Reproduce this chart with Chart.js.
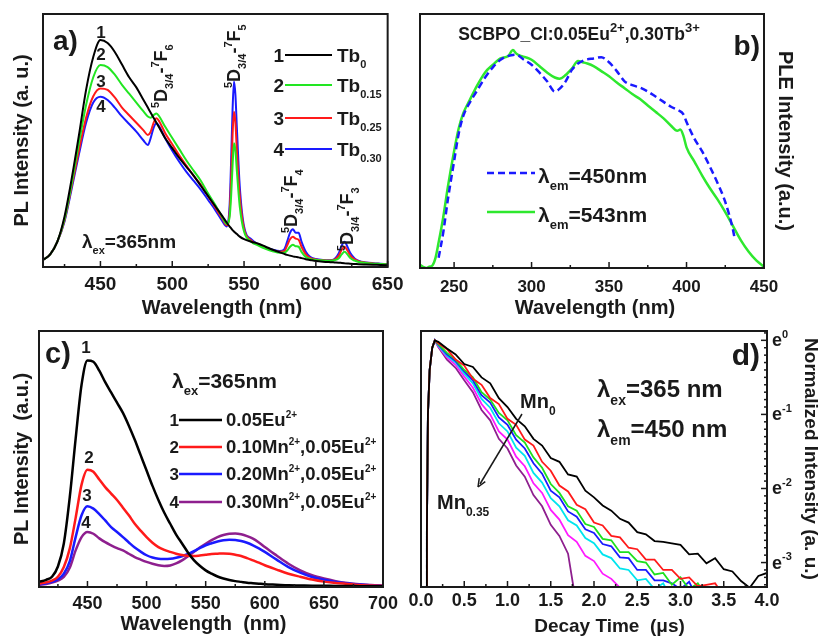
<!DOCTYPE html>
<html>
<head>
<meta charset="utf-8">
<script src="https://cdn.jsdelivr.net/npm/chart.js@4.4.1/dist/chart.umd.min.js"></script>
<style>
html, body { margin: 0; padding: 0; background: #fff; }
#wrap { position: relative; width: 819px; height: 637px; overflow: hidden; }
canvas { position: absolute; }
</style>
</head>
<body>
<div id="wrap">
  <canvas id="chartA" width="410" height="320" style="left:0;top:0"></canvas>
  <canvas id="chartB" width="409" height="320" style="left:410px;top:0"></canvas>
  <canvas id="chartC" width="410" height="327" style="left:0;top:310px"></canvas>
  <canvas id="chartD" width="422" height="327" style="left:400px;top:310px"></canvas>
</div>
<script>
const FONT = '"Liberation Sans", Arial, Helvetica, sans-serif';
Chart.defaults.font.family = FONT;
Chart.defaults.color = '#1a1a1a';

// (a) PL spectra, lambda_ex = 365 nm
const wlA = [410,415,420,425,430,435,440,445,450,455,460,465,470,475,480,483,485,487,489,491,495,500,505,510,515,520,525,530,535,538,540,541,542,543,544,545,547,550,555,560,565,570,575,578,580,582,584,586,588,590,593,596,600,605,610,613,616,618,620,622,624,627,630,635,640,645,650];
const tb0 = [2.8,5,10,20,35,52,70,83,89.7,88.5,85,80,75,71,66,63,61,59,57,55,51,47,43,39.5,36,32,28,24,20,17.5,16,15.3,14.6,14,13.5,13,12,11,10,9.2,8,6.8,5.8,5.2,4.8,4.5,4.2,4,3.8,3.5,3.1,2.8,2.4,2.1,1.9,1.8,1.7,1.6,1.5,1.4,1.3,1.2,1.1,1,0.9,0.8,0.7];
const tb015 = [2.8,5,10,19,33,49,64,75,79.8,79,76,72,68.5,65,61.5,59.5,59,60,60.7,59.5,55.5,51,46.5,42,38,34,29,24.5,19.5,17,20,28,40,48.9,46,38,24,14,10,8.5,7.2,6.2,5.6,5.6,6.5,8,8.8,8.2,8,6,4,3.2,2.8,2.6,2.5,2.7,3.5,5,6,5,3.5,2.5,2,1.6,1.3,1.2,1];
const tb025 = [2.8,5,10,18.5,32,46,59,67.5,70.6,70,67,63,60,57,54,52.2,53.5,57,58.8,57.5,53,48.5,44,40,36,32.5,28,23.5,19,16.5,22,35,52,61.4,57,46,28,15,10.5,8.8,7.5,6.5,6,6.2,8.5,11,12,11.2,10.8,8,5,3.6,3,2.7,2.6,2.9,4.5,6.8,8,6.5,4.5,3,2.2,1.7,1.4,1.2,1];
const tb030 = [2.8,5,10,18,31,44.5,57,65,67.3,66,63,59.5,56.5,53.5,50,48.2,51,55,56.8,55.5,51,46,41.5,37.5,34,30.5,26.5,22.5,18,16,25,42,62,73.3,68,55,32,16,11,9,7.8,6.8,6.3,7,10,13.5,14.9,13.5,13.5,10,6,4,3.2,2.8,2.7,3.2,5.5,8.5,10,8,5.5,3.4,2.4,1.8,1.5,1.3,1.1];
const labelsA = ['0', '0.15', '0.25', '0.30'];
const ticksA = [450, 500, 550, 600, 650];
const minorA = [425, 475, 525, 575, 625];

// (b) PLE spectra
const wlB543 = [228,230,232,234,236,238,240,243,246,250,253,256,260,265,270,275,280,285,288,290,293,296,300,305,310,315,318,322,326,330,333,336,340,345,350,355,360,365,370,375,380,385,390,394,396,398,400,405,410,415,420,425,430,435,440,445,450];
const ple543 = [1.3,0.5,0,0.5,1,4,10,20,32,46,55,61,66,72,77,80,82.5,83.5,85.8,84.5,83.5,83,82,79.5,77,75,74.5,76,78.5,81.5,81,80.5,79.5,77.5,75.5,73,70.8,68.5,66.5,64,61.5,59,56,54,54.5,52,47.5,42,36.5,31.5,27,22,16.5,11,6.5,3,0.5];
const wlB450 = [240,243,246,250,253,256,260,265,270,275,280,285,290,295,300,305,310,315,318,322,326,330,335,340,345,350,355,360,365,370,375,380,385,390,395,398,400,405,410,415,420,425,430,431];
const ple450 = [4,14,27,42,53,60,65,70,75,79,82,83.5,84,82,80,77,73.5,69.5,70.5,73.5,78,80.5,82,82.5,83,81,77.5,73.5,72,71,69.5,67.5,65.5,63.5,62,60.5,57.5,51,46,40,33.5,26,15,11.8];
const ticksB = [250, 300, 350, 400, 450];
const minorB = [275, 325, 375, 425];

// (c) PL spectra, Mn series
const wlC = [409,415,420,425,430,435,440,445,450,455,460,465,470,475,480,485,490,495,500,505,510,515,520,525,530,535,540,545,550,555,560,565,570,575,580,585,590,595,600,610,620,630,640,650,660,670,680,690,700];
const mn000 = [2,2.8,4,8,17,35,58,79,88.5,88,84.5,80,76,72,68,63,57.5,51.5,45.5,39.5,34,29,24.7,20.5,17,13.5,10.5,8.3,6.5,5.2,4.1,3.3,2.7,2.3,2,1.7,1.5,1.3,1.1,0.9,0.7,0.6,0.5,0.5,0.4,0.4,0.3,0.3,0.3];
const mn010 = [1.3,1.8,2.5,4,7.8,15,27,40,45.8,45,42,39,36.5,34,31,28,24.7,22,19.5,17.3,15.6,14.5,13.7,13,12.5,12.2,12.1,12.3,12.6,12.9,13,13.1,13,12.6,12.1,11.3,10.4,9.5,8.5,6.8,5.2,4,2.9,2.1,1.6,1.2,0.8,0.6,0.5];
const mn020 = [1,1.5,2,3,5.2,10,19.5,28,31.5,30.6,28.5,26,23.4,21.5,19.5,17.4,15.4,13.8,12.4,11.5,11,10.9,11,11.4,12,12.9,14,15.2,16.3,17.1,17.8,18.3,18.5,18.4,18,17.3,16.3,15.1,13.7,10.7,7.8,5.6,3.9,2.8,2,1.4,1,0.7,0.5];
const mn030 = [0.8,1.2,1.7,2.5,3.9,7.5,14.3,19.5,21.5,20.8,19,17.5,16.3,15.2,14.3,13,11.7,10.7,9.8,9.1,8.5,8.2,8.4,9.2,10.4,12,13.7,15.4,16.9,18.3,19.5,20.3,20.8,20.9,20.6,19.9,18.9,17.4,15.6,12.3,9.1,6.5,4.6,3.3,2.3,1.6,1.1,0.8,0.5];
const labelsC = ['0.05Eu2+', '0.10Mn2+,0.05Eu2+', '0.20Mn2+,0.05Eu2+', '0.30Mn2+,0.05Eu2+'];
const ticksC = [450, 500, 550, 600, 650, 700];
const minorC = [425, 475, 525, 575, 625, 675];

// (d) decay curves, ln of normalized intensity
const tD = [0.066,0.068,0.08,0.1,0.13,0.16,0.2,0.3,0.4,0.5,0.6,0.7,0.8,0.9,1.0,1.1,1.2,1.3,1.4,1.5,1.6,1.7,1.8,1.9,2.0,2.1,2.2,2.3,2.4,2.5,2.6,2.7,2.8,2.9,3.0,3.1,3.2,3.3,3.4,3.5,3.6,3.7,3.8,3.9,4.0];
const riseLn = [-3.6,-2.6,-1.0,-0.4,-0.1,0];
const decMn0 = [-0.02,-0.11,-0.19,-0.32,-0.36,-0.5,-0.58,-0.78,-0.9,-1.06,-1.16,-1.33,-1.42,-1.59,-1.64,-1.81,-1.84,-2.03,-2.12,-2.23,-2.3,-2.41,-2.46,-2.59,-2.62,-2.71,-2.72,-2.74,-2.76,-2.89,-2.88,-3.01,-2.94,-3.09,-3.12,-3.25,-3.34,-3.18,-3.14];
const decRed = [-0.04,-0.12,-0.26,-0.34,-0.52,-0.6,-0.78,-0.86,-1.06,-1.14,-1.34,-1.42,-1.64,-1.76,-1.96,-2.04,-2.22,-2.28,-2.46,-2.5,-2.64,-2.66,-2.8,-2.82,-2.96,-2.96,-3.1,-3.1,-3.22,-3.2,-3.32,-3.3,-3.28,-3.45,-3.6];
const decGreen = [-0.05,-0.17,-0.26,-0.4,-0.5,-0.7,-0.8,-0.98,-1.08,-1.28,-1.38,-1.58,-1.72,-1.94,-2.06,-2.24,-2.3,-2.48,-2.52,-2.68,-2.7,-2.86,-2.86,-2.98,-3.0,-3.16,-3.14,-3.3,-3.2,-3.36,-3.28,-3.45,-3.6];
const decBlue = [-0.06,-0.19,-0.28,-0.42,-0.54,-0.74,-0.84,-1.04,-1.14,-1.34,-1.46,-1.66,-1.8,-2.03,-2.12,-2.31,-2.38,-2.55,-2.6,-2.75,-2.78,-2.93,-2.94,-3.1,-3.1,-3.24,-3.24,-3.28,-3.36,-3.26,-3.5,-3.6];
const decCyan = [-0.07,-0.21,-0.3,-0.45,-0.58,-0.79,-0.91,-1.12,-1.23,-1.45,-1.56,-1.79,-1.92,-2.13,-2.24,-2.43,-2.5,-2.67,-2.74,-2.89,-2.94,-3.08,-3.1,-3.24,-3.22,-3.36,-3.28,-3.5,-3.6];
const decMagenta = [-0.08,-0.23,-0.33,-0.49,-0.64,-0.86,-1.0,-1.23,-1.34,-1.57,-1.7,-1.93,-2.06,-2.29,-2.42,-2.63,-2.72,-2.91,-2.98,-3.15,-3.22,-3.34,-3.5,-3.6];
const decPurple = [-0.09,-0.26,-0.37,-0.54,-0.7,-0.94,-1.08,-1.33,-1.46,-1.69,-1.84,-2.09,-2.24,-2.49,-2.64,-2.88,-3.6];
const ticksD = [0, 0.5, 1, 1.5, 2, 2.5, 3, 3.5, 4];
const minorD = [0.25, 0.75, 1.25, 1.75, 2.25, 2.75, 3.25, 3.75];
const ticksDy = [0, -1, -2, -3];

// helpers
function pts(xs, ys) {
  return ys.map((y, i) => ({ x: xs[i], y: y }));
}

function rich(ctx, x, y, parts, size, opt) {
  opt = opt || {};
  const small = Math.round(size * (opt.ratio || 0.6));
  ctx.save();
  ctx.translate(x, y);
  if (opt.rot) ctx.rotate(opt.rot);
  ctx.fillStyle = opt.color || '#1a1a1a';
  ctx.textBaseline = 'alphabetic';
  ctx.textAlign = 'left';
  const fonts = parts.map(p => 'bold ' + (p[1] ? small : size) + 'px ' + FONT);
  const widths = parts.map((p, i) => { ctx.font = fonts[i]; return ctx.measureText(p[0]).width; });
  const total = widths.reduce((a, b) => a + b, 0);
  let cx = opt.align === 'center' ? -total / 2 : opt.align === 'right' ? -total : 0;
  parts.forEach((p, i) => {
    ctx.font = fonts[i];
    const dy = p[1] === 'sub' ? size * 0.33 : p[1] === 'sup' ? -size * 0.45 : 0;
    ctx.fillText(p[0], cx, dy);
    cx += widths[i];
  });
  ctx.restore();
}

function seg(ctx, x1, y1, x2, y2) {
  ctx.beginPath();
  ctx.moveTo(x1, y1);
  ctx.lineTo(x2, y2);
  ctx.stroke();
}

function frame(chart, major, minor) {
  const ctx = chart.ctx, a = chart.chartArea, sx = chart.scales.x;
  ctx.save();
  ctx.strokeStyle = '#1a1a1a';
  ctx.lineWidth = 1.5;
  major.forEach(v => { const p = sx.getPixelForValue(v); seg(ctx, p, a.bottom, p, a.bottom - 6); });
  minor.forEach(v => { const p = sx.getPixelForValue(v); seg(ctx, p, a.bottom, p, a.bottom - 3); });
  ctx.lineWidth = 2;
  ctx.strokeRect(a.left, a.top, a.right - a.left, a.bottom - a.top);
  ctx.restore();
}

function xAxis(min, max, ticks, height, size, pad, fmt) {
  return {
    type: 'linear', min: min, max: max,
    grid: { display: false, drawTicks: false }, border: { display: false },
    afterBuildTicks: s => { s.ticks = ticks.map(v => ({ value: v })); },
    afterFit: s => { s.height = height; },
    ticks: { font: { size: size, weight: 'bold' }, padding: pad, maxRotation: 0, autoSkip: false,
             callback: fmt || (v => String(v)) }
  };
}

function yAxis(min, max, pos, width, title, tsize, tpad) {
  return {
    type: 'linear', min: min, max: max, position: pos,
    grid: { display: false, drawTicks: false }, border: { display: false },
    ticks: { display: false },
    afterFit: s => { s.width = width; },
    title: { display: true, text: title, font: { size: tsize, weight: 'bold' }, padding: { top: tpad, bottom: 0 } }
  };
}

function baseOptions(padding) {
  return {
    responsive: false,
    animation: false,
    layout: { padding: padding },
    elements: { point: { radius: 0 }, line: { borderWidth: 2, cubicInterpolationMode: 'monotone' } },
    plugins: { legend: { display: false }, tooltip: { enabled: false } }
  };
}

function transLabel(ctx, x, y, j) {
  rich(ctx, x, y, [['5', 'sup'], ['D', ''], ['3/4', 'sub'], ['-', ''], ['7', 'sup'], ['F', ''], [j, 'sub']], 18, { rot: -Math.PI / 2 });
}

// chart a
const optA = baseOptions({ left: 0, top: 14, right: 22, bottom: 0 });
optA.scales = {
  x: xAxis(410, 650, ticksA, 53, 19, 6.5),
  y: yAxis(0, 100, 'left', 43, 'PL Intensity (a. u.)', 20, 10)
};
new Chart(document.getElementById('chartA'), {
  type: 'line',
  data: {
    datasets: [
      { label: 'Tb0', data: pts(wlA, tb0), borderColor: '#000000' },
      { label: 'Tb0.15', data: pts(wlA, tb015), borderColor: '#22e622' },
      { label: 'Tb0.25', data: pts(wlA, tb025), borderColor: '#ff1a1a' },
      { label: 'Tb0.30', data: pts(wlA, tb030), borderColor: '#1a1aff' }
    ]
  },
  options: optA,
  plugins: [{
    id: 'decoA',
    afterDraw(chart) {
      const ctx = chart.ctx;
      frame(chart, ticksA, minorA);
      rich(ctx, 222, 314, [['Wavelength (nm)', '']], 20, { align: 'center' });
      rich(ctx, 53, 50, [['a)', '']], 28);
      [38, 60, 87, 112].forEach((y, i) => rich(ctx, 101, y, [[String(i + 1), '']], 17, { align: 'center' }));
      transLabel(ctx, 167, 108, '6');
      transLabel(ctx, 240, 88, '5');
      transLabel(ctx, 297, 233, '4');
      transLabel(ctx, 353, 251, '3');
      rich(ctx, 82, 248, [['λ', ''], ['ex', 'sub'], ['=365nm', '']], 19);
      const rows = [55, 85, 118, 149];
      chart.data.datasets.forEach((ds, i) => {
        const y = rows[i];
        rich(ctx, 284, y + 7, [[String(i + 1), '']], 19, { align: 'right' });
        ctx.save();
        ctx.strokeStyle = ds.borderColor;
        ctx.lineWidth = 2;
        seg(ctx, 285, y, 332, y);
        ctx.restore();
        rich(ctx, 337, y + 7, [['Tb', ''], [labelsA[i], 'sub']], 19);
      });
    }
  }]
});

// chart b
const optB = baseOptions({ left: 10, top: 14, right: 0, bottom: 0 });
optB.scales = {
  x: xAxis(228, 450, ticksB, 52, 17, 9),
  y: yAxis(0, 100, 'right', 55, 'PLE Intensity (a.u.)', 20, 22)
};
new Chart(document.getElementById('chartB'), {
  type: 'line',
  data: {
    datasets: [
      { label: 'em450', data: pts(wlB450, ple450), borderColor: '#1a1aff', borderWidth: 2.5, borderDash: [7, 4] },
      { label: 'em543', data: pts(wlB543, ple543), borderColor: '#2ee82e', borderWidth: 2.5 }
    ]
  },
  options: optB,
  plugins: [{
    id: 'decoB',
    afterDraw(chart) {
      const ctx = chart.ctx;
      frame(chart, ticksB, minorB);
      rich(ctx, 185, 314, [['Wavelength (nm)', '']], 20, { align: 'center' });
      rich(ctx, 169, 40, [['SCBPO_Cl:0.05Eu', ''], ['2+', 'sup'], [',0.30Tb', ''], ['3+', 'sup']], 17.5, { align: 'center', ratio: 0.72 });
      rich(ctx, 350, 55, [['b)', '']], 28, { align: 'right' });
      const ds = chart.data.datasets;
      ctx.save();
      ctx.lineWidth = 2.5;
      ctx.strokeStyle = ds[0].borderColor;
      ctx.setLineDash([7, 4]);
      seg(ctx, 77, 173, 125, 173);
      ctx.setLineDash([]);
      ctx.strokeStyle = ds[1].borderColor;
      seg(ctx, 77, 212, 125, 212);
      ctx.restore();
      rich(ctx, 128, 183, [['λ', ''], ['em', 'sub'], ['=450nm', '']], 21);
      rich(ctx, 128, 222, [['λ', ''], ['em', 'sub'], ['=543nm', '']], 21);
    }
  }]
});

// chart c
const optC = baseOptions({ left: 0, top: 21, right: 27, bottom: 0 });
optC.elements.line.borderWidth = 2.5;
optC.scales = {
  x: xAxis(409, 700, ticksC, 50, 18, 6.5),
  y: yAxis(0, 100, 'left', 39, 'PL Intensity  (a.u.)', 20, 10.5)
};
new Chart(document.getElementById('chartC'), {
  type: 'line',
  data: {
    datasets: [
      { label: labelsC[0], data: pts(wlC, mn000), borderColor: '#000000' },
      { label: labelsC[1], data: pts(wlC, mn010), borderColor: '#ff1a1a' },
      { label: labelsC[2], data: pts(wlC, mn020), borderColor: '#1a1aff' },
      { label: labelsC[3], data: pts(wlC, mn030), borderColor: '#8e1f8e' }
    ]
  },
  options: optC,
  plugins: [{
    id: 'decoC',
    afterDraw(chart) {
      const ctx = chart.ctx;
      frame(chart, ticksC, minorC);
      rich(ctx, 203.5, 320, [['Wavelength  (nm)', '']], 20, { align: 'center' });
      rich(ctx, 45, 53, [['c)', '']], 29);
      [[86, 43], [89, 153], [87, 191], [86, 218]].forEach((p, i) => rich(ctx, p[0], p[1], [[String(i + 1), '']], 17, { align: 'center' }));
      rich(ctx, 172, 78, [['λ', ''], ['ex', 'sub'], ['=365nm', '']], 21);
      const rows = [110, 137, 164, 192];
      chart.data.datasets.forEach((ds, i) => {
        const y = rows[i];
        rich(ctx, 179, y + 6, [[String(i + 1), '']], 17, { align: 'right' });
        ctx.save();
        ctx.strokeStyle = ds.borderColor;
        ctx.lineWidth = 2.5;
        seg(ctx, 179, y, 222, y);
        ctx.restore();
        const parts = ds.label.split(/(2\+)/).filter(Boolean).map(p => [p, p === '2+' ? 'sup' : '']);
        rich(ctx, 226, y + 6, parts, 18.5, { ratio: 0.55 });
      });
    }
  }]
});

// chart d
const optD = baseOptions({ left: 21, top: 21, right: 0, bottom: 0 });
optD.elements.line.cubicInterpolationMode = 'default';
optD.elements.line.tension = 0;
optD.elements.line.borderWidth = 1.8;
optD.scales = {
  x: xAxis(0, 4, ticksD, 50, 18, 3.7, v => v.toFixed(1)),
  y: yAxis(-3.33, 0.126, 'right', 55, 'Normalized Intensity (a. u.)', 19, 0.6)
};
const decaySets = [
  [decMn0, '#000000'], [decRed, '#ff1a1a'], [decGreen, '#1ee01e'], [decBlue, '#1a1aff'],
  [decCyan, '#00e5ee'], [decMagenta, '#ff1aff'], [decPurple, '#8e1f8e']
];
new Chart(document.getElementById('chartD'), {
  type: 'line',
  data: {
    datasets: decaySets.map((s, i) => ({ label: 'decay' + i, data: pts(tD, riseLn.concat(s[0])), borderColor: s[1] }))
  },
  options: optD,
  plugins: [{
    id: 'decoD',
    afterDraw(chart) {
      const ctx = chart.ctx, a = chart.chartArea, sy = chart.scales.y;
      frame(chart, ticksD, minorD);
      ctx.save();
      ctx.strokeStyle = '#1a1a1a';
      ctx.lineWidth = 1.5;
      for (let k = -33; k <= 1; k++) {
        const p = sy.getPixelForValue(k / 10);
        seg(ctx, a.right, p, a.right - (k % 10 === 0 ? 6 : 3), p);
      }
      ctx.restore();
      ticksDy.forEach(v => {
        const p = sy.getPixelForValue(v);
        rich(ctx, a.right + 5, p + 6, [['e', ''], [v === 0 ? '0' : String(v), 'sup']], 18, { ratio: 0.6 });
      });
      rich(ctx, 209.5, 322, [['Decay Time  (μs)', '']], 19, { align: 'center' });
      rich(ctx, 360, 55, [['d)', '']], 30, { align: 'right' });
      rich(ctx, 197, 87, [['λ', ''], ['ex', 'sub'], ['=365 nm', '']], 24);
      rich(ctx, 197, 127, [['λ', ''], ['em', 'sub'], ['=450 nm', '']], 24);
      rich(ctx, 120, 98, [['Mn', ''], ['0', 'sub']], 20);
      rich(ctx, 37, 199, [['Mn', ''], ['0.35', 'sub']], 20);
      // arrow
      ctx.save();
      ctx.strokeStyle = '#1a1a1a';
      ctx.lineWidth = 1.5;
      seg(ctx, 122, 104, 80, 174);
      const ang = Math.atan2(177 - 104, 78 - 122);
      ctx.beginPath();
      ctx.moveTo(78, 177);
      ctx.lineTo(78 - 9 * Math.cos(ang - 0.4), 177 - 9 * Math.sin(ang - 0.4));
      ctx.moveTo(78, 177);
      ctx.lineTo(78 - 9 * Math.cos(ang + 0.4), 177 - 9 * Math.sin(ang + 0.4));
      ctx.stroke();
      ctx.restore();
    }
  }]
});
</script>
</body>
</html>
